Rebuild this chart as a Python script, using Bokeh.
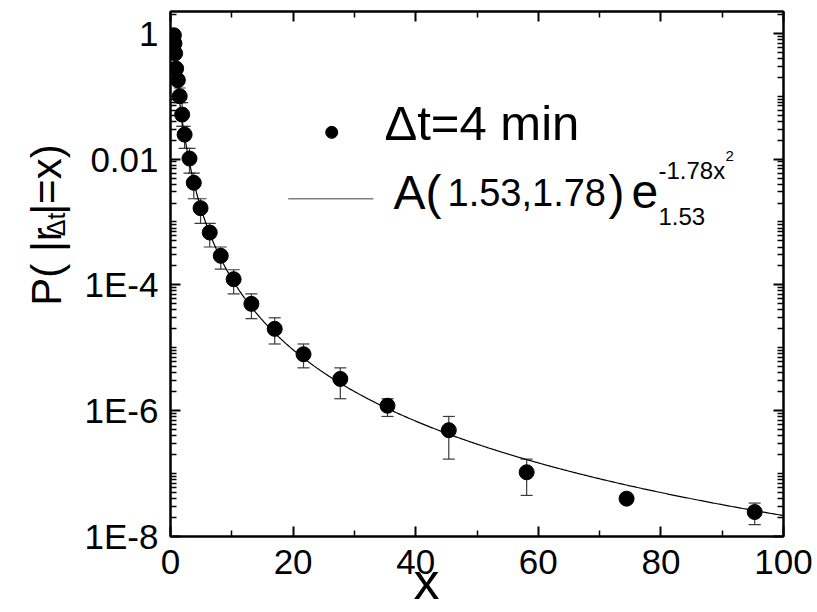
import math
import numpy as np
from bokeh.plotting import figure
from bokeh.layouts import row
from bokeh.models import (LogAxis, LinearAxis, FixedTicker, CustomJSTickFormatter,
                          Whisker, ColumnDataSource, Label, TeeHead, Range1d)
from bokeh.core.properties import value
from bokeh.embed import file_html
from bokeh.resources import INLINE

# ---- data ----
x_vals = [0.55, 0.65, 0.76, 0.92, 1.2, 1.5, 1.9, 2.3, 3.1, 3.8, 4.9, 6.4, 8.2,
          10.3, 13.2, 17.0, 21.7, 27.7, 35.4, 45.4, 58.1, 74.4, 95.3]
p_vals = [0.93, 0.69, 0.48, 0.275, 0.18, 0.10, 0.051, 0.0245, 0.0102, 0.0042,
          0.00166, 6.8e-4, 2.9e-4, 1.23e-4, 5.0e-5, 2.0e-5, 7.9e-6, 3.2e-6,
          1.2e-6, 4.9e-7, 1.05e-7, 4.0e-8, 2.45e-8]

err_x = [1.5, 1.9, 2.3, 3.1, 3.8, 4.9, 6.4, 8.2, 10.3, 13.2, 17.0, 21.7, 27.7,
         35.4, 45.4, 58.1, 95.3]
err_lo = [0.079, 0.033, 0.0148, 0.0060, 0.00234, 9.5e-4, 4.0e-4, 1.78e-4,
          7.2e-5, 2.9e-5, 1.15e-5, 4.8e-6, 1.55e-6, 8.1e-7, 1.7e-7, 4.5e-8, 1.55e-8]
err_hi = [0.135, 0.079, 0.033, 0.0148, 0.0060, 0.00234, 9.5e-4, 4.0e-4,
          1.74e-4, 7.2e-5, 3.0e-5, 1.15e-5, 4.8e-6, 1.55e-6, 8.1e-7, 1.7e-7, 3.4e-8]

# fit parameters (q-Gaussian, from the legend)
fit_q = 1.53
fit_beta = 1.78
fit_A = 0.68

x_ticks = [0, 20, 40, 60, 80, 100]
x_minor = [10, 30, 50, 70, 90]
y_ticks = [1, 1e-2, 1e-4, 1e-6, 1e-8]
y_tick_labels = ["1", "0.01", "1E-4", "1E-6", "1E-8"]

FONT = "Liberation Sans"
STRIP_W = 80          # width of the strip that carries the y-axis title
TOTAL_W, TOTAL_H = 817, 612
FRAME_L, FRAME_R, FRAME_T, FRAME_B = 170, 783, 11, 541   # page pixels

# ---- main figure ----
p = figure(width=TOTAL_W - STRIP_W, height=TOTAL_H, y_axis_type="log",
           x_range=Range1d(0, 100), y_range=Range1d(1e-8, 2.22),
           output_backend="svg", toolbar_location=None,
           min_border_left=FRAME_L - STRIP_W, min_border_right=TOTAL_W - FRAME_R,
           min_border_top=FRAME_T, min_border_bottom=TOTAL_H - FRAME_B)
p.grid.visible = False
p.outline_line_color = "black"
p.outline_line_width = 2
p.background_fill_color = "white"
p.border_fill_color = "white"

y_minor = [k * 10.0 ** n for n in range(-8, 1) for k in range(1, 10)]
y_minor = [v for v in y_minor if v not in y_ticks]
x_ticker = FixedTicker(ticks=x_ticks, minor_ticks=x_minor)
y_ticker = FixedTicker(ticks=y_ticks, minor_ticks=y_minor)
y_fmt = CustomJSTickFormatter(args=dict(vals=y_ticks, labs=y_tick_labels), code="""
for (let i = 0; i < vals.length; i++) {
  if (Math.abs(Math.log10(vals[i]) - Math.log10(tick)) < 1e-6) return labs[i];
}
return "";
""")
blank_fmt = CustomJSTickFormatter(code="return '';")


def style(ax, labels=True):
    ax.axis_line_color = "black"
    ax.axis_line_width = 2
    ax.major_tick_in = 10
    ax.major_tick_out = 0
    ax.minor_tick_in = 6
    ax.minor_tick_out = 0
    ax.major_tick_line_width = 2
    ax.minor_tick_line_width = 1.5
    ax.major_tick_line_color = "black"
    ax.minor_tick_line_color = "black"
    ax.major_label_text_font = FONT
    ax.major_label_text_color = "black"
    if labels:
        ax.major_label_text_font_size = "35px"
    else:
        ax.formatter = blank_fmt
        ax.major_label_text_font_size = "2px"
        ax.major_label_standoff = 0


xa = p.xaxis[0]
xa.ticker = x_ticker
style(xa)
xa.major_label_standoff = 13
# axis title "x" (padded with no-break spaces so it sits under the "40")
xa.axis_label = "x" + "\u00a0" * 7
xa.axis_label_text_font = FONT
xa.axis_label_text_font_size = "52px"
xa.axis_label_text_font_style = "normal"
xa.axis_label_text_color = "black"
xa.axis_label_standoff = -25

ya = p.yaxis[0]
ya.ticker = y_ticker
ya.formatter = y_fmt
style(ya)
ya.major_label_standoff = 12

top = LinearAxis(ticker=x_ticker)
style(top, labels=False)
p.add_layout(top, "above")
right = LogAxis(ticker=y_ticker)
style(right, labels=False)
p.add_layout(right, "right")

# ---- fit curve ----
xf = np.linspace(0, 100, 500)
yf = fit_A * (1 + (fit_q - 1) * fit_beta * xf ** 2) ** (1 / (1 - fit_q))
p.line(xf, yf, line_color="black", line_width=1.2)

# ---- error bars ----
esrc = ColumnDataSource(dict(x=err_x, lo=err_lo, hi=err_hi))
wh = Whisker(base="x", lower="lo", upper="hi", source=esrc,
             line_color="#3a3a3a", line_width=1.2, level="underlay",
             upper_head=TeeHead(size=12, line_color="#3a3a3a", line_width=1.2),
             lower_head=TeeHead(size=12, line_color="#3a3a3a", line_width=1.2))
p.add_layout(wh)

# ---- data points ----
p.scatter(x_vals, p_vals, size=15, marker="circle", fill_color="black",
          line_color="black")

# ---- legend (hand-built for mixed-size text) ----
p.scatter([26.3], [0.0266], size=12, marker="circle", fill_color="black", line_color="black")
p.line([19.2, 33.1], [0.00234, 0.00234], line_color="#808080", line_width=1.5)


def lab(text, xpx, ypx, size):
    # text placed at page-pixel positions (baseline ypx), as offsets from the frame;
    # the label is anchored at its middle, which lies 0.35 em above the baseline
    mid = ypx - 0.35 * size
    p.add_layout(Label(x=xpx - FRAME_L, y=FRAME_B - mid, x_units="screen", y_units="screen",
                       text=text, text_font=FONT, text_font_size=f"{size}px",
                       text_color="black", text_align="left", text_baseline="middle"))


lab("\u0394t=4 min", 384, 145, 49)
lab("A(", 393, 214, 48)
lab("1.53,1.78", 447, 210, 38)
lab(")", 608, 214, 48)
lab("e", 631, 213, 48)
lab("-1.78x", 658, 183, 24)
lab("2", 725, 166, 15)
lab("1.53", 658, 229, 24)

# ---- strip on the left with the y-axis title (with subscript) ----
s = figure(width=STRIP_W, height=TOTAL_H, x_range=Range1d(0, STRIP_W),
           y_range=Range1d(0, TOTAL_H), output_backend="svg", toolbar_location=None,
           min_border=0, outline_line_color=None)
s.axis.visible = False
s.grid.visible = False
ylab_parts = ["P( |r", "\u0394t", " |=x)"]
ylab_x = [46, 55, 46]          # baseline, page pixels
ylab_y = [343, 262, 237]       # start of each piece, page pixels
ylab_size = ["42px", "25px", "42px"]
s.text(x=ylab_x, y=[TOTAL_H - v for v in ylab_y], text=ylab_parts,
       text_font=value(FONT), text_font_size=ylab_size, text_color="black",
       angle=math.pi / 2, text_align="left", text_baseline="alphabetic")

layout = row(s, p, spacing=0)
open("out.html", "w").write(file_html(layout, INLINE))
